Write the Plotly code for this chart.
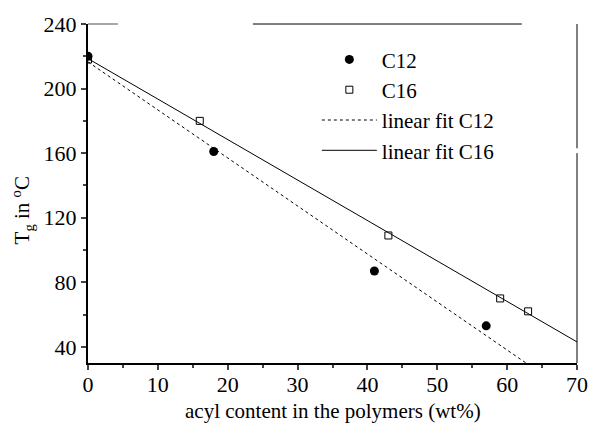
import numpy as np
import plotly.graph_objects as go

x_c12 = [0, 18, 41, 57]
y_c12 = [220, 161, 87, 53]
x_c16 = [0, 16, 43, 59, 63]
y_c16 = [218, 180, 109, 70, 62]

x_ticks = [0, 10, 20, 30, 40, 50, 60, 70]
y_ticks = [40, 80, 120, 160, 200, 240]

X_MIN, X_MAX = 0, 70
Y_MIN, Y_MAX = 30, 240

# linear fits computed from the data
s12, b12 = np.polyfit(x_c12, y_c12, 1)
s16, b16 = np.polyfit(x_c16, y_c16, 1)
x_end12 = (Y_MIN - b12) / s12
fit12_x = [0, x_end12]
fit12_y = [b12, Y_MIN]
fit16_x = [0, X_MAX]
fit16_y = [b16, b16 + s16 * X_MAX]

font = "Liberation Serif, Times New Roman, serif"

fig = go.Figure()
fig.add_trace(go.Scatter(x=fit12_x, y=fit12_y, mode="lines", name="linear fit C12",
                         line=dict(color="black", width=1, dash="dot"), showlegend=False))
fig.add_trace(go.Scatter(x=fit16_x, y=fit16_y, mode="lines", name="linear fit C16",
                         line=dict(color="black", width=1), showlegend=False))
fig.add_trace(go.Scatter(x=x_c12, y=y_c12, mode="markers", name="C12",
                         marker=dict(symbol="circle", size=9, color="black")))
fig.add_trace(go.Scatter(x=x_c16, y=y_c16, mode="markers", name="C16",
                         marker=dict(symbol="square-open", size=7, color="black",
                                     line=dict(width=1, color="black"))))
# legend entries for the lines
fig.add_trace(go.Scatter(x=[None], y=[None], mode="lines", name="linear fit C12",
                         line=dict(color="black", width=1, dash="dot")))
fig.add_trace(go.Scatter(x=[None], y=[None], mode="lines", name="linear fit C16",
                         line=dict(color="black", width=1)))

# partial top frame and right frame (as in the scanned original)
fig.add_shape(type="line", xref="x", yref="paper", x0=0, x1=4.3, y0=1, y1=1,
              line=dict(color="#888", width=1.5))
fig.add_shape(type="line", xref="x", yref="paper", x0=23.6, x1=62.1, y0=1, y1=1,
              line=dict(color="black", width=1))
fig.add_shape(type="line", xref="paper", yref="y", x0=1, x1=1, y0=Y_MAX, y1=163,
              line=dict(color="black", width=1))
fig.add_shape(type="line", xref="paper", yref="y", x0=1, x1=1, y0=160, y1=Y_MIN,
              line=dict(color="black", width=1))

# axis titles
fig.add_annotation(text="acyl content in the polymers (wt%)", xref="paper", yref="paper",
                   x=0.5, y=-0.142, xanchor="center", yanchor="middle", showarrow=False,
                   font=dict(size=21, family=font, color="black"))
fig.add_annotation(text="T<sub>g</sub> in <sup>o</sup>C", xref="paper", yref="paper",
                   x=-0.135, y=0.45, xanchor="center", yanchor="middle", showarrow=False,
                   textangle=-90, font=dict(size=21, family=font, color="black"))

fig.update_layout(
    width=589, height=425,
    margin=dict(l=88, r=12, t=24, b=62, autoexpand=False),
    paper_bgcolor="white", plot_bgcolor="white",
    font=dict(family=font, size=20, color="black"),
    showlegend=True,
    legend=dict(x=0.468, y=0.955, xanchor="left", yanchor="top",
                bgcolor="rgba(0,0,0,0)", font=dict(size=21, family=font),
                itemwidth=55, tracegroupgap=0),
    xaxis=dict(range=[X_MIN, X_MAX], tickvals=x_ticks, ticks="outside", ticklen=5,
               tickwidth=1.5, showgrid=False, zeroline=False, showline=True,
               linecolor="black", linewidth=2, automargin=False,
               tickfont=dict(size=22, family=font), ticklabelstandoff=-4,
               minor=dict(ticks="outside", dtick=5, ticklen=3, tickwidth=1.5)),
    yaxis=dict(range=[Y_MIN, Y_MAX], tickvals=y_ticks, ticks="outside", ticklen=5,
               tickwidth=1.5, showgrid=False, zeroline=False, showline=True,
               linecolor="black", linewidth=2, automargin=False,
               tickfont=dict(size=22, family=font),
               minor=dict(ticks="outside", tickvals=[60, 100, 140, 180, 220], ticklen=3, tickwidth=1.5)),
)

fig.write_html("out.html", config={"displayModeBar": False},
               post_script="document.body.style.margin='0';document.body.style.overflow='hidden';")
